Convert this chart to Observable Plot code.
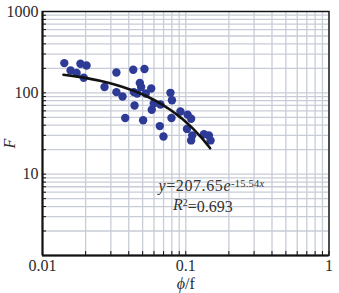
<!DOCTYPE html>
<html>
<head>
<meta charset="utf-8">
<script src="https://cdn.jsdelivr.net/npm/d3@7"></script>
<script src="https://cdn.jsdelivr.net/npm/@observablehq/plot@0.6"></script>
<style>
  html, body { margin: 0; padding: 0; background: #fff; }
</style>
</head>
<body>
<div id="chart"></div>
<script>
// ---- data ----
const phiOverF = [0.0142, 0.0157, 0.0173, 0.0184, 0.0203, 0.0194, 0.0271, 0.0328, 0.0328, 0.0362,
                  0.0378, 0.0430, 0.0515, 0.0478, 0.0488, 0.0434, 0.0458, 0.0574, 0.0526, 0.0439,
                  0.0579, 0.0598, 0.0666, 0.0782, 0.0801, 0.0795, 0.0504, 0.0659, 0.0699, 0.0918,
                  0.103, 0.109, 0.102, 0.111, 0.109, 0.134, 0.145, 0.149];
const Fvalues  = [232, 188, 175, 228, 217, 153, 118, 178, 102, 90,
                  49, 192, 196, 132, 118, 102, 98, 113, 98, 70,
                  62, 74, 72, 100, 81, 49, 46, 39, 29, 59,
                  54, 48, 36, 30, 26, 31, 30, 26];
// fitted curve y = 207.65 e^(-15.54 x), drawn over the data range
const fitCoef = [207.65, -15.54];
const fitRange = [0.014, 0.148];
const xTickValues = [0.01, 0.1, 1];
const xTickLabels = ["0.01", "0.1", "1"];
const yTickValues = [10, 100, 1000];
const yTickLabels = ["10", "100", "1000"];
const xDomain = [0.01, 1];
const yDomain = [1, 1000];
const xTitle = "ϕ/f";
const yTitle = "F";
const eqText = "y=207.65e";
const r2Text = "R2=0.693";
const eqPos = [0.0645, 7.1];
const r2Pos = [0.0815, 4.2];

// ---- build ----
const points = phiOverF.map((x, i) => ({x, y: Fvalues[i]}));
const fit = d3.range(0, 61).map(i => {
  const x = fitRange[0] + (fitRange[1] - fitRange[0]) * i / 60;
  return {x, y: fitCoef[0] * Math.exp(fitCoef[1] * x)};
});
const xGrid = d3.scaleLog().domain(xDomain).ticks();
const yGrid = d3.scaleLog().domain(yDomain).ticks();
const gridColor = "#c8ccd6";
const font = "'Liberation Serif', 'DejaVu Serif', serif";

const chart = Plot.plot({
  width: 339,
  height: 293,
  marginLeft: 42,
  marginRight: 10.5,
  marginTop: 11,
  marginBottom: 38,
  x: {type: "log", domain: xDomain},
  y: {type: "log", domain: yDomain},
  style: {fontFamily: font, fontSize: "16px", color: "#2a2a2a", background: "#fff", overflow: "visible"},
  marks: [
    Plot.ruleX(xGrid, {stroke: gridColor, strokeWidth: 1.3}),
    Plot.ruleY(yGrid, {stroke: gridColor, strokeWidth: 1.3}),
    Plot.dot(points, {x: "x", y: "y", r: 4.2, fill: "#2d3a96", stroke: "none"}),
    Plot.line(fit, {x: "x", y: "y", stroke: "#111", strokeWidth: 2.6}),
    Plot.frame({stroke: "#111", strokeWidth: 1.4}),
    Plot.ruleX([xDomain[0]], {stroke: "#111", strokeWidth: 2}),
    Plot.ruleY([yDomain[0]], {stroke: "#111", strokeWidth: 2}),
    Plot.axisX({ticks: xGrid, tickSize: -4, tickFormat: () => "", label: null, stroke: "#111"}),
    Plot.axisY({ticks: yGrid, tickSize: -4, tickFormat: () => "", label: null, stroke: "#111"}),
    Plot.axisX({ticks: xTickValues, tickSize: 0, tickPadding: 4,
                tickFormat: d => xTickLabels[xTickValues.indexOf(d)], label: null, fontSize: 16}),
    Plot.axisY({ticks: yTickValues, tickSize: 0, tickPadding: 4,
                tickFormat: d => yTickLabels[yTickValues.indexOf(d)], label: null, fontSize: 16}),
    Plot.text([xTitle], {frameAnchor: "bottom", lineAnchor: "middle", dy: 28, fontSize: 16, fill: "#2a2a2a"}),
    Plot.text([yTitle], {frameAnchor: "left", dx: -33, dy: 15, rotate: -90, fontSize: 16, fontStyle: "italic", fill: "#2a2a2a"}),
    Plot.text([eqText], {x: () => eqPos[0], y: () => eqPos[1], textAnchor: "start", fontSize: 16, fill: "#333"}),
    Plot.text([r2Text], {x: () => r2Pos[0], y: () => r2Pos[1], textAnchor: "start", fontSize: 16, fill: "#333"})
  ]
});
document.getElementById("chart").appendChild(chart);

// rich formatting for the axis title and the equation / R² annotations
const svg = d3.select(chart);
svg.selectAll("text").filter(function() { return this.textContent === xTitle; }).each(function() {
  const t = d3.select(this);
  t.text(null);
  t.append("tspan").attr("font-style", "italic").text(xTitle.slice(0, 1));
  t.append("tspan").text(xTitle.slice(1));
});
svg.selectAll("text").filter(function() { return this.textContent === eqText; }).each(function() {
  const t = d3.select(this);
  t.text(null).attr("letter-spacing", "0.6px");
  t.append("tspan").attr("font-style", "italic").text("y");
  t.append("tspan").text("=207.65");
  t.append("tspan").attr("font-style", "italic").text("e");
  t.append("tspan").attr("dy", "-0.45em").attr("font-size", "10.5px").attr("letter-spacing", "0.2px").text("-15.54");
  t.append("tspan").attr("font-size", "10.5px").attr("font-style", "italic").text("x");
});
svg.selectAll("text").filter(function() { return this.textContent === r2Text; }).each(function() {
  const t = d3.select(this);
  t.text(null);
  t.append("tspan").attr("font-style", "italic").text("R");
  t.append("tspan").attr("dy", "-0.4em").attr("font-size", "10px").text("2");
  t.append("tspan").attr("dy", "0.4em").text("=0.693");
});
</script>
</body>
</html>
